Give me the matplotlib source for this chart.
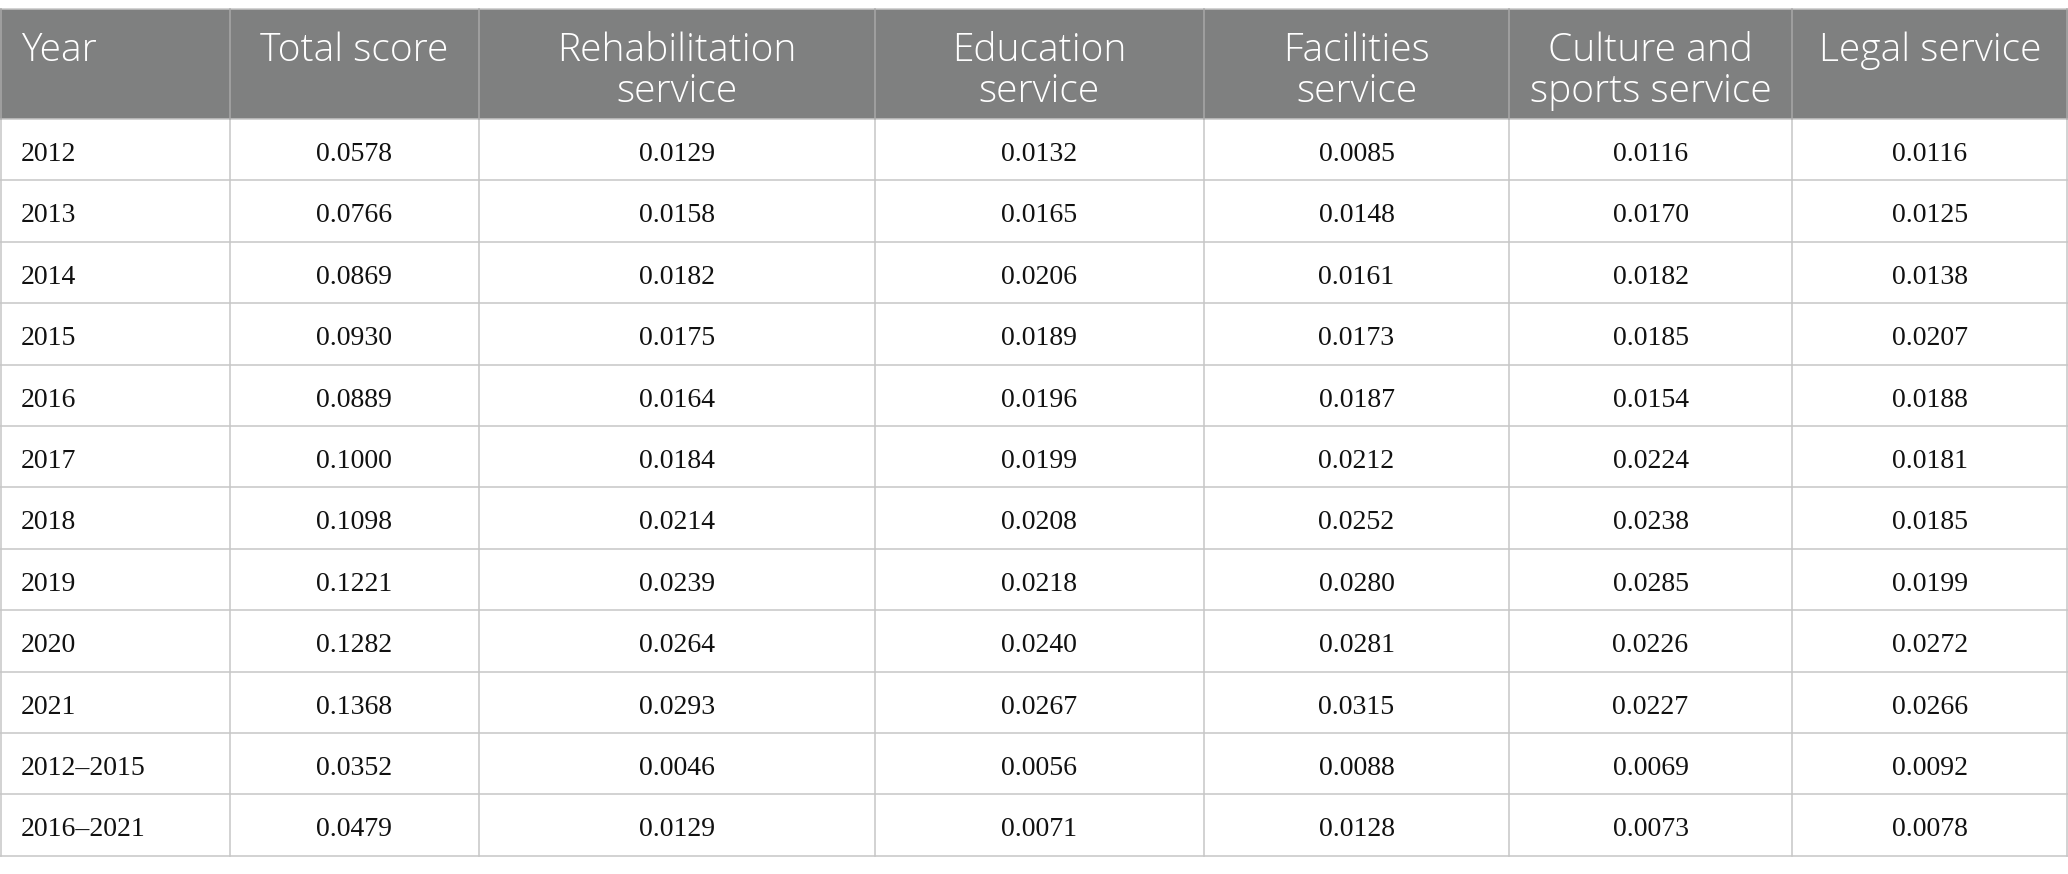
import matplotlib.pyplot as plt
from matplotlib.patches import Rectangle

# table data
years = ["2012", "2013", "2014", "2015", "2016", "2017", "2018", "2019",
         "2020", "2021", "2012\u20132015", "2016\u20132021"]
total_score = [0.0578, 0.0766, 0.0869, 0.0930, 0.0889, 0.1000, 0.1098,
               0.1221, 0.1282, 0.1368, 0.0352, 0.0479]
rehabilitation = [0.0129, 0.0158, 0.0182, 0.0175, 0.0164, 0.0184, 0.0214,
                  0.0239, 0.0264, 0.0293, 0.0046, 0.0129]
education = [0.0132, 0.0165, 0.0206, 0.0189, 0.0196, 0.0199, 0.0208,
             0.0218, 0.0240, 0.0267, 0.0056, 0.0071]
facilities = [0.0085, 0.0148, 0.0161, 0.0173, 0.0187, 0.0212, 0.0252,
              0.0280, 0.0281, 0.0315, 0.0088, 0.0128]
culture_sports = [0.0116, 0.0170, 0.0182, 0.0185, 0.0154, 0.0224, 0.0238,
                  0.0285, 0.0226, 0.0227, 0.0069, 0.0073]
legal = [0.0116, 0.0125, 0.0138, 0.0207, 0.0188, 0.0181, 0.0185,
         0.0199, 0.0272, 0.0266, 0.0092, 0.0078]

headers = [["Year"], ["Total score"], ["Rehabilitation", "service"],
           ["Education", "service"], ["Facilities", "service"],
           ["Culture and", "sports service"], ["Legal service"]]

columns = [total_score, rehabilitation, education, facilities,
           culture_sports, legal]

# layout (pixels)
W, H = 2068, 874
col_edges = [0, 229.5, 479, 874.5, 1204, 1509, 1792, 2068]
top = 9
head_h = 110
row_h = 61.4
head_col = "#7f8080"
grid_col = "#c6c6c6"

fig = plt.figure(figsize=(W / 100, H / 100), dpi=100)
ax = fig.add_axes([0, 0, 1, 1])
ax.set_xlim(0, W)
ax.set_ylim(H, 0)
ax.axis("off")

# header
ax.add_patch(Rectangle((0, top), W, head_h, facecolor=head_col, edgecolor="none"))
for i, lines in enumerate(headers):
    x0, x1 = col_edges[i], col_edges[i + 1]
    for j, line in enumerate(lines):
        if i == 0:
            ax.text(x0 + 21, top + 52 + j * 41, line, ha="left", va="baseline",
                    color="white", fontsize=28, family="Open Sans",
                    fontweight="light")
        else:
            ax.text((x0 + x1) / 2, top + 52 + j * 41, line, ha="center",
                    va="baseline", color="white", fontsize=28,
                    family="Open Sans", fontweight="light")

# body
body_top = top + head_h
n = len(years)
for r in range(n):
    y0 = body_top + r * row_h
    ax.text(21, y0 + 42, years[r], ha="left", va="baseline", fontsize=20,
            family="Liberation Serif", color="#111111")
    for c, vals in enumerate(columns):
        xc = (col_edges[c + 1] + col_edges[c + 2]) / 2
        ax.text(xc, y0 + 42, f"{vals[r]:.4f}", ha="center", va="baseline",
                fontsize=20, family="Liberation Serif", color="#111111")

bottom = body_top + n * row_h

# grid lines
for r in range(n + 1):
    y = body_top + r * row_h
    ax.plot([0, W], [y, y], color=grid_col, lw=1.1, solid_capstyle="butt")
ax.plot([0, W], [top, top], color=grid_col, lw=1.1)
for x in col_edges:
    xx = min(max(x, 0.8), W - 0.8)
    ax.plot([xx, xx], [body_top, bottom], color=grid_col, lw=1.1)
    ax.plot([xx, xx], [top, body_top], color="#a8a8a8", lw=1.1)

fig.savefig("out.png", dpi=100)
